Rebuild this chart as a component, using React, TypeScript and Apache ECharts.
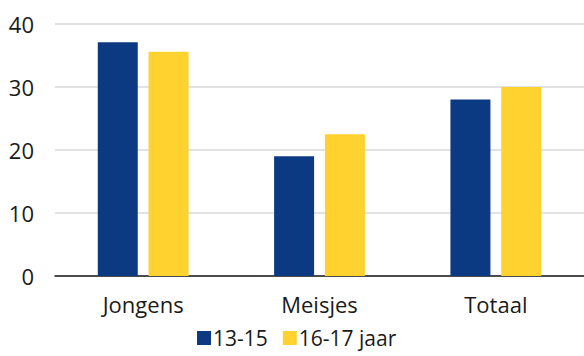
import React, { useEffect, useRef } from "react";
import * as echarts from "echarts";

const categories = ["Jongens", "Meisjes", "Totaal"];
const seriesNames = ["13-15", "16-17 jaar"];
const values1315 = [37.1, 19.0, 28.0];
const values1617 = [35.6, 22.5, 30.0];
const yTicks = { min: 0, max: 40, interval: 10 };

const FONT = "'Open Sans', sans-serif";

export default function App() {
  const ref = useRef<HTMLDivElement>(null);
  useEffect(() => {
    document.body.style.margin = "0";
    if (!ref.current) return;
    const chart = echarts.init(ref.current, null, { renderer: "svg" });
    chart.setOption({
      animation: false,
      grid: { left: 55, right: 0, top: 24, bottom: 80 },
      legend: {
        left: 197,
        top: 326,
        padding: 0,
        itemWidth: 14,
        itemHeight: 14,
        itemGap: 15,
        icon: "rect",
        textStyle: { fontFamily: FONT, fontSize: 21, lineHeight: 24, color: "#1a1a1a", padding: [0, 0, 0, -3] },
        data: seriesNames,
      },
      xAxis: {
        type: "category",
        data: categories,
        axisLine: { lineStyle: { color: "#1a1a1a", width: 1.5 } },
        axisTick: { show: false },
        axisLabel: { fontFamily: FONT, fontSize: 22, color: "#1a1a1a", margin: 17 },
      },
      yAxis: {
        type: "value",
        min: yTicks.min,
        max: yTicks.max,
        interval: yTicks.interval,
        axisLine: { show: false },
        axisTick: { show: false },
        splitLine: { lineStyle: { color: "#d9d9d9", width: 1.5 } },
        axisLabel: { fontFamily: FONT, fontSize: 22, color: "#1a1a1a", margin: 21 },
      },
      series: [
        {
          name: seriesNames[0],
          type: "bar",
          data: values1315,
          barWidth: 40,
          barGap: "27%",
          itemStyle: { color: "#0b3a82" },
        },
        {
          name: seriesNames[1],
          type: "bar",
          data: values1617,
          barWidth: 40,
          itemStyle: { color: "#ffd22f" },
        },
      ],
    });
    return () => chart.dispose();
  }, []);
  return <div ref={ref} style={{ width: 584, height: 356 }} />;
}
